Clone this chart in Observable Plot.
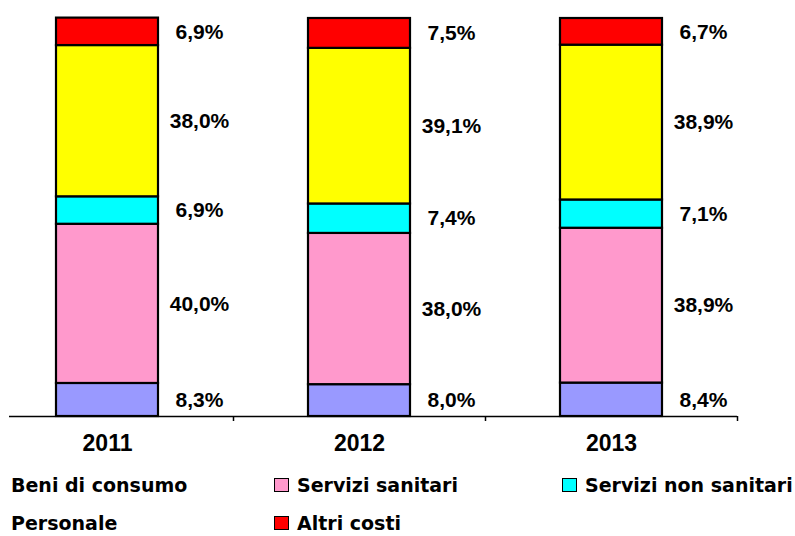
<!DOCTYPE html>
<html><head><meta charset="utf-8">
<script src="https://cdn.jsdelivr.net/npm/d3@7"></script>
<script src="https://cdn.jsdelivr.net/npm/@observablehq/plot@0.6"></script>
<style>
body{margin:0;background:#fff;width:795px;height:536px;overflow:hidden;font-family:"Liberation Sans",Arial,sans-serif;}
#legend{position:relative;height:76px;padding-top:6px;font-family:"DejaVu Sans",sans-serif;font-weight:bold;font-size:19px;color:#000}
.item{position:absolute;display:flex;align-items:center;height:38px;white-space:nowrap}
.sw{width:13px;height:12px;border:1.5px solid #000;margin-right:8px;box-sizing:content-box}
</style></head><body>
<div id="chart"></div><div id="legend"></div>
<script>
const years = ["2011", "2012", "2013"];
const series = ["Beni di consumo", "Servizi sanitari", "Servizi non sanitari", "Personale", "Altri costi"];
const colors = ["#9999FF", "#FF99CC", "#00FFFF", "#FFFF00", "#FF0000"];
const beniDiConsumo = [8.3, 8.0, 8.4];
const serviziSanitari = [40.0, 38.0, 38.9];
const serviziNonSanitari = [6.9, 7.4, 7.1];
const personale = [38.0, 39.1, 38.9];
const altriCosti = [6.9, 7.5, 6.7];

const seriesValues = [beniDiConsumo, serviziSanitari, serviziNonSanitari, personale, altriCosti];
const data = [];
years.forEach((year, i) => series.forEach((s, j) => data.push({year, series: s, value: seriesValues[j][i]})));

const fmt = v => d3.format(".1f")(v).replace(".", ",") + "%";

const plot = Plot.plot({
  width: 795, height: 460,
  marginTop: 18, marginBottom: 44, marginLeft: 9, marginRight: 58,
  x: {domain: years, range: [-19, 737], paddingInner: 0.595, paddingOuter: 0.2975, label: null, axis: null},
  y: {domain: [0, 100], axis: null},
  color: {domain: series, range: colors},
  style: {fontFamily: "'Liberation Sans', Arial, sans-serif", background: "white", overflow: "visible"},
  marks: [
    Plot.barY(data, {x: "year", y: "value", fill: "series", stroke: "#000", strokeWidth: 2.2}),
    Plot.text(data, Plot.stackY({x: "year", y: "value", z: "series", text: d => fmt(d.value), dx: 92, fontSize: 21, fontWeight: "bold", fill: "#000"})),
    Plot.ruleY([0], {stroke: "#000", strokeWidth: 1.5}),
    Plot.ruleX(years, {x: d => d, y1: 0, y2: 0, dx: 126, insetBottom: -5, stroke: "#000", strokeWidth: 1.5}),
    Plot.axisX({tickSize: 0, tickPadding: 18, fontSize: 23, fontWeight: "bold", label: null})
  ]
});
document.getElementById("chart").appendChild(plot);

// Legend (HTML, below the SVG)
const legendLayout = [
  {left: 11, top: 6, swatch: false},
  {left: 274, top: 6, swatch: true},
  {left: 562, top: 6, swatch: true},
  {left: 11, top: 44, swatch: false},
  {left: 274, top: 44, swatch: true}
];
const legend = document.getElementById("legend");
series.forEach((s, j) => {
  const L = legendLayout[j];
  const item = document.createElement("div");
  item.className = "item";
  item.style.left = L.left + "px";
  item.style.top = L.top + "px";
  if (L.swatch) {
    const sw = document.createElement("span");
    sw.className = "sw";
    sw.style.background = colors[j];
    item.appendChild(sw);
  }
  const t = document.createElement("span");
  t.textContent = s;
  item.appendChild(t);
  legend.appendChild(item);
});
</script>
</body></html>
